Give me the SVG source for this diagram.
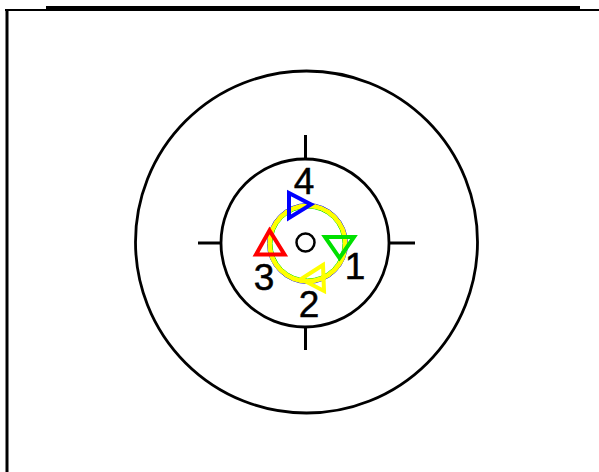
<svg xmlns="http://www.w3.org/2000/svg" width="599" height="472" viewBox="0 0 599 472">
<style>
.ring{fill:none;stroke:#000;stroke-width:2.8}
.tick{stroke:#000;stroke-width:3}
.tri{fill:none;stroke-width:4;stroke-linejoin:miter}
.lbl{font-family:"Liberation Sans",Arial,sans-serif;font-size:37px;fill:#000;stroke:#000;stroke-width:0.5;text-anchor:middle}
</style>
<rect width="599" height="472" fill="#fff"/>
<g id="frame">
<line x1="5" y1="10" x2="599" y2="10" stroke="#000" stroke-width="2"/>
<line x1="46" y1="8.5" x2="580" y2="8.5" stroke="#000" stroke-width="5"/>
<line x1="7" y1="9" x2="7" y2="472" stroke="#000" stroke-width="3"/>
</g>
<g id="target">
<circle class="ring" cx="306.5" cy="242" r="171"/>
<circle class="ring" cx="305" cy="243" r="84"/>
<line class="tick" x1="198" y1="243" x2="221" y2="243"/>
<line class="tick" x1="389" y1="243" x2="415" y2="243"/>
<line class="tick" x1="305.5" y1="135" x2="305.5" y2="159"/>
<line class="tick" x1="305.5" y1="327" x2="305.5" y2="350"/>
<circle cx="305.5" cy="242.5" r="9" fill="none" stroke="#000" stroke-width="2.5"/>
</g>
<g id="orbit">
<circle cx="307.5" cy="243.5" r="40" fill="none" stroke="#0000ff" stroke-width="1"/>
<circle cx="307.5" cy="243.5" r="35.5" fill="none" stroke="#00e000" stroke-width="1"/>
<circle cx="307.5" cy="243.5" r="37.8" fill="none" stroke="#ffff00" stroke-width="4.6"/>
</g>
<g id="node1">
<polygon class="tri" stroke="#00e000" points="325,237 354,237 339.5,258"/>
<text class="lbl" x="355" y="279">1</text>
</g>
<g id="node2">
<polygon class="tri" stroke="#ffff00" points="323,265 301,279 324,291"/>
<text class="lbl" x="309" y="316.5">2</text>
</g>
<g id="node3">
<polygon class="tri" stroke="#ff0000" points="269.5,230.5 256,254.5 284.5,254.5"/>
<text class="lbl" x="264" y="290">3</text>
</g>
<g id="node4">
<polygon class="tri" stroke="#0000ff" points="289,193 311,204.5 289,218"/>
<text class="lbl" x="304" y="193.5">4</text>
</g>
</svg>
